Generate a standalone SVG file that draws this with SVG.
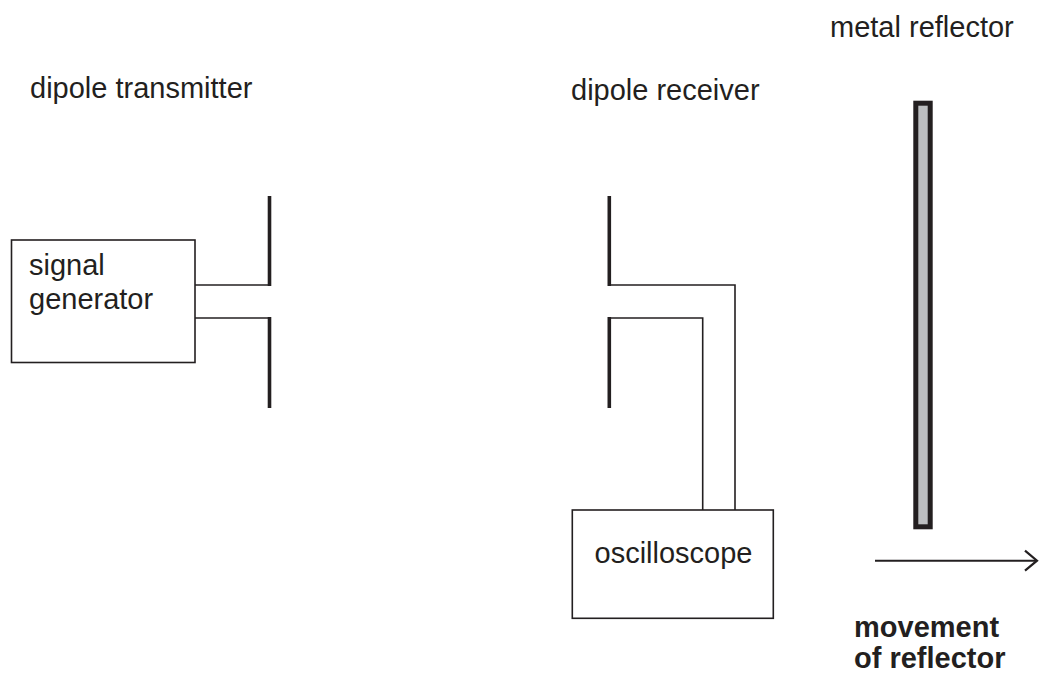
<svg xmlns="http://www.w3.org/2000/svg" width="1039" height="675" viewBox="0 0 1039 675">
<style>
text{font-family:"Liberation Sans",Arial,sans-serif;font-size:29px;fill:#231f20}
.b{font-weight:bold}
.box{fill:#fff;stroke:#231f20;stroke-width:1.6}
.wire{fill:none;stroke:#231f20;stroke-width:1.6}
.pole{fill:none;stroke:#231f20;stroke-width:3.6}
</style>
<defs>
<marker id="arr" viewBox="0 0 20 24" refX="18" refY="12" markerWidth="20" markerHeight="24" markerUnits="userSpaceOnUse" orient="auto">
<path d="M6,2 L18,12 L6,22" fill="none" stroke="#231f20" stroke-width="2.2"/>
</marker>
</defs>
<rect width="1039" height="675" fill="#fff"/>
<g id="labels">
<text x="30" y="98">dipole transmitter</text>
<text x="571" y="100">dipole receiver</text>
<text x="830" y="37">metal reflector</text>
</g>
<g id="signal-generator">
<rect class="box" x="11.5" y="240" width="183.5" height="122.5"/>
<text x="29" y="275">signal</text>
<text x="29" y="309">generator</text>
</g>
<g id="transmitter-dipole">
<line class="pole" x1="269.5" y1="196" x2="269.5" y2="286"/>
<line class="pole" x1="269.5" y1="317" x2="269.5" y2="408"/>
</g>
<g id="receiver-dipole">
<line class="pole" x1="609.3" y1="196" x2="609.3" y2="286"/>
<line class="pole" x1="609.3" y1="317" x2="609.3" y2="408"/>
</g>
<g id="oscilloscope">
<rect class="box" x="572.3" y="510" width="201" height="108.3"/>
<text x="673.5" y="563" text-anchor="middle">oscilloscope</text>
</g>
<g id="metal-reflector">
<rect x="915.8" y="103.2" width="14.4" height="423.6" fill="#bcbec0" stroke="#231f20" stroke-width="5"/>
</g>
<g id="connectors">
<polyline class="wire" points="195,285 269.5,285"/>
<polyline class="wire" points="195,318 269.5,318"/>
<polyline class="wire" points="609.3,285 735,285 735,510"/>
<polyline class="wire" points="609.3,318 702.7,318 702.7,510"/>
<line x1="875" y1="560.7" x2="1037" y2="560.7" stroke="#231f20" stroke-width="2" marker-end="url(#arr)"/>
</g>
<g id="movement-label">
<text class="b" x="854" y="637">movement</text>
<text class="b" x="854" y="668">of reflector</text>
</g>
</svg>
